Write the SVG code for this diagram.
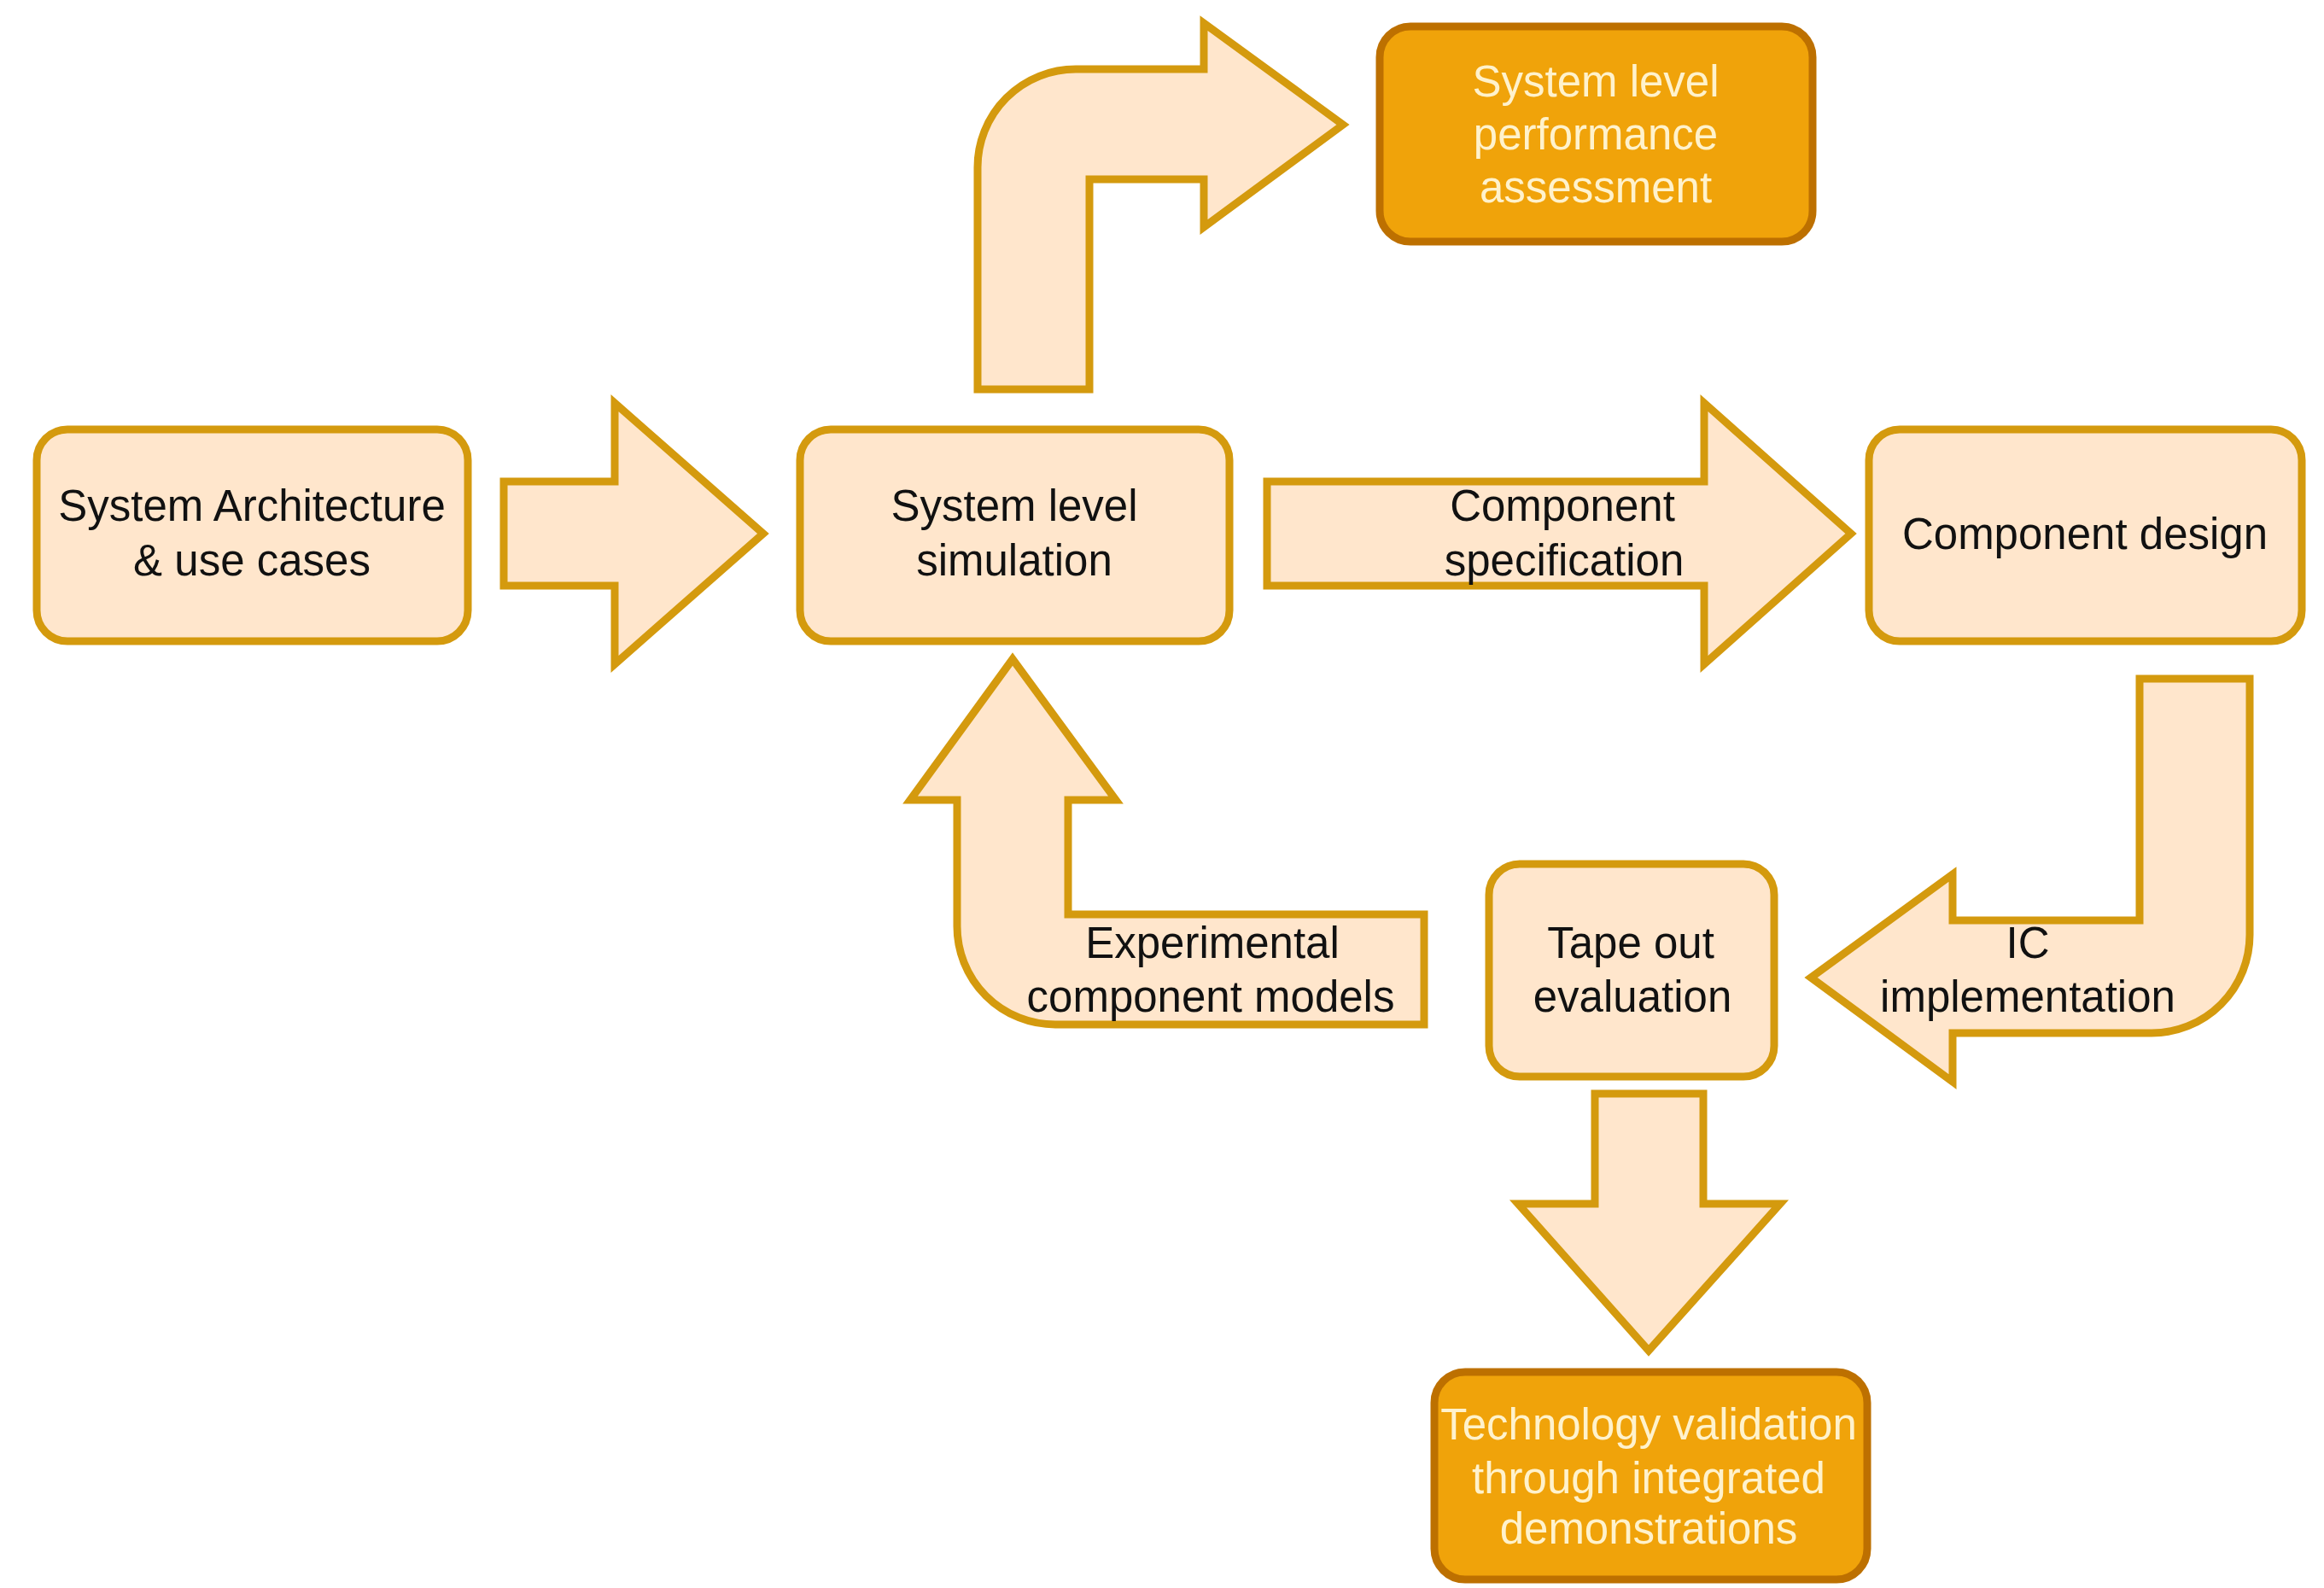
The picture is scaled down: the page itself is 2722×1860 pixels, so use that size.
<svg xmlns="http://www.w3.org/2000/svg" width="2722" height="1860" viewBox="0 0 2722 1860">
<style>
.box{fill:#FFE6CC;stroke:#D49A0E;stroke-width:9}
.dark{fill:#F0A30A;stroke:#BD7000;stroke-width:9}
.arr{fill:#FFE6CC;stroke:#D49A0E;stroke-width:9;stroke-linejoin:miter}
text{font-family:"Liberation Sans",Arial,sans-serif;font-size:51px;text-anchor:middle;fill:#111111}
.lt{fill:#FFF2CC}
</style>
<rect width="2722" height="1860" fill="#FFFFFF"/>
<g id="connectors">
<g id="arrow-arch-sim"><path class="arr" d="M590,564 L720,564 L720,472 L894,625 L720,778 L720,686 L590,686 Z"/></g>
<g id="arrow-sim-perf"><path class="arr" d="M1145,456 L1145,196 A115,115 0 0 1 1260,81 L1410,81 L1410,27 L1573,146 L1410,266 L1410,210 L1276,210 L1276,456 Z"/></g>
<g id="arrow-sim-design"><path class="arr" d="M1484,564 L1996,564 L1996,472 L2168,625 L1996,778 L1996,686 L1484,686 Z"/>
<text x="1830" y="610">Component</text><text x="1832" y="674">specification</text></g>
<g id="arrow-design-tape"><path class="arr" d="M2506,795 L2635,795 L2635,1095 A115,115 0 0 1 2520,1210 L2287,1210 L2287,1267 L2121,1145 L2287,1024 L2287,1078 L2506,1078 Z"/>
<text x="2375" y="1122">IC</text><text x="2375" y="1185">implementation</text></g>
<g id="arrow-tape-sim"><path class="arr" d="M1668,1071 L1668,1200 L1236,1200 A115,115 0 0 1 1121,1085 L1121,937 L1066,937 L1186,772 L1307,937 L1251,937 L1251,1071 Z"/>
<text x="1420" y="1122">Experimental</text><text x="1418" y="1185">component models</text></g>
<g id="arrow-tape-tech"><path class="arr" d="M1868,1281 L1995,1281 L1995,1410 L2085,1410 L1931,1582 L1778,1410 L1868,1410 Z"/></g>
</g>
<g id="node-arch"><rect class="box" x="43" y="503" width="505" height="248" rx="36"/>
<text x="295" y="610">System Architecture</text><text x="295" y="674">&amp; use cases</text></g>
<g id="node-sim"><rect class="box" x="937" y="503" width="503" height="248" rx="36"/>
<text x="1188" y="610">System level</text><text x="1188" y="674">simulation</text></g>
<g id="node-perf"><rect class="dark" x="1616" y="31" width="507" height="252" rx="36"/>
<text class="lt" x="1869" y="113">System level</text><text class="lt" x="1869" y="175">performance</text><text class="lt" x="1869" y="237">assessment</text></g>
<g id="node-design"><rect class="box" x="2189" y="503" width="507" height="248" rx="36"/>
<text x="2442" y="643">Component design</text></g>
<g id="node-tape"><rect class="box" x="1744" y="1012" width="334" height="249" rx="36"/>
<text x="1910" y="1122">Tape out</text><text x="1912" y="1185">evaluation</text></g>
<g id="node-tech"><rect class="dark" x="1680" y="1607" width="507" height="243" rx="36"/>
<text class="lt" x="1931" y="1686">Technology validation</text><text class="lt" x="1931" y="1749">through integrated</text><text class="lt" x="1931" y="1808">demonstrations</text></g>
</svg>
